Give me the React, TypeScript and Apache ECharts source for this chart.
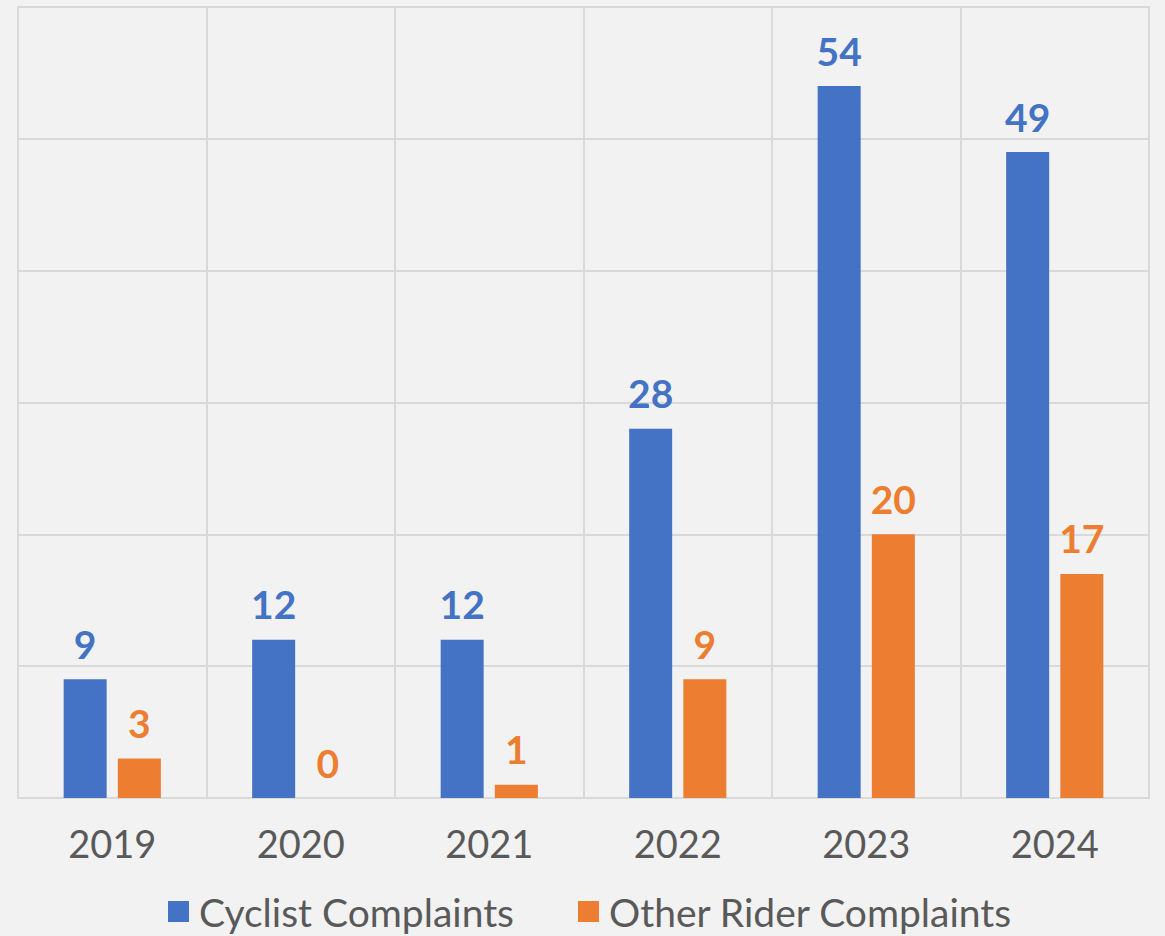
import React, { useEffect, useRef } from "react";
import * as echarts from "echarts";

const categories = ["2019", "2020", "2021", "2022", "2023", "2024"];
const cyclistComplaints = [9, 12, 12, 28, 54, 49];
const otherRiderComplaints = [3, 0, 1, 9, 20, 17];

const BLUE = "#4472c4";
const ORANGE = "#ed7d31";
const GRID = "#d9d9d9";
const FONT = "Lato";

export default function App() {
  const ref = useRef<HTMLDivElement>(null);
  useEffect(() => {
    if (!ref.current) return;
    const chart = echarts.init(ref.current, null, { renderer: "svg" });
    chart.setOption({
      animation: false,
      backgroundColor: "#f2f2f2",
      grid: {
        left: 18,
        right: 16,
        top: 7,
        bottom: 138,
        show: true,
        borderColor: GRID,
        borderWidth: 2,
        containLabel: false,
      },
      legend: {
        bottom: 0,
        left: 163,
        itemWidth: 21,
        itemHeight: 21,
        itemGap: 64,
        icon: "rect",
        textStyle: { fontFamily: FONT, fontSize: 39, color: "#595959", padding: [0, 0, 0, 5] },
        data: ["Cyclist Complaints", "Other Rider Complaints"],
      },
      xAxis: {
        type: "category",
        data: categories,
        axisLine: { show: true, lineStyle: { color: GRID, width: 2 } },
        axisTick: { show: false },
        splitLine: { show: true, interval: 0, lineStyle: { color: GRID, width: 2 } },
        axisLabel: { fontFamily: FONT, fontSize: 38, color: "#595959", margin: 26 },
      },
      yAxis: {
        type: "value",
        min: 0,
        max: 60,
        interval: 10,
        axisLabel: { show: false },
        axisLine: { show: false },
        axisTick: { show: false },
        splitLine: { show: true, lineStyle: { color: GRID, width: 2 } },
      },
      series: [
        {
          name: "Cyclist Complaints",
          type: "bar",
          data: cyclistComplaints,
          barWidth: 43,
          barGap: "26%",
          itemStyle: { color: BLUE },
          label: {
            show: true,
            position: "top",
            distance: 16,
            fontFamily: FONT,
            fontWeight: "bold",
            fontSize: 39,
            color: BLUE,
          },
        },
        {
          name: "Other Rider Complaints",
          type: "bar",
          data: otherRiderComplaints,
          barWidth: 43,
          itemStyle: { color: ORANGE },
          label: {
            show: true,
            position: "top",
            distance: 16,
            fontFamily: FONT,
            fontWeight: "bold",
            fontSize: 39,
            color: ORANGE,
          },
        },
      ],
    });
    return () => chart.dispose();
  }, []);
  return (
    <div
      ref={ref}
      style={{ position: "fixed", left: 0, top: 0, width: 1165, height: 936 }}
    />
  );
}
